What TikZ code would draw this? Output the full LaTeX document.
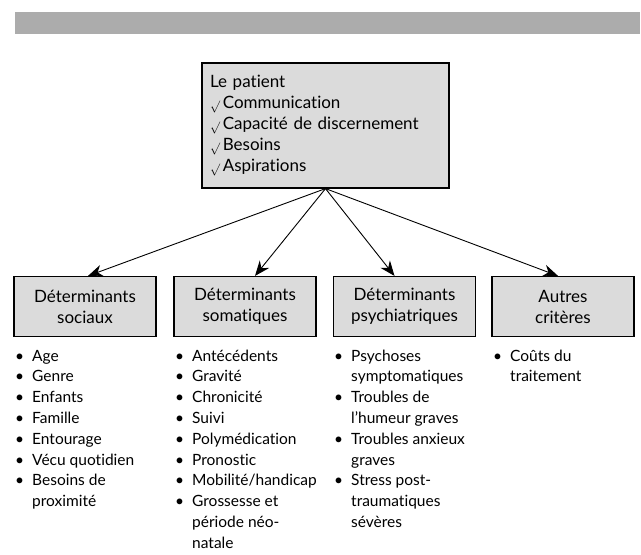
\documentclass[tikz,border=0pt]{standalone}
\usepackage{fontspec}
\setmainfont{Lato}[Ligatures=NoCommon]
\usetikzlibrary{arrows.meta}
\newcommand{\coche}{\raisebox{-1pt}{\fontsize{13}{15}\selectfont$\surd$}\,}
\begin{document}
\begin{tikzpicture}[
  x=1pt, y=-1pt,
  grand/.style={font={\fontsize{17}{21}\selectfont}},
  petit/.style={font={\fontsize{15.5}{20.8}\selectfont}},
  patbox/.style={draw=black, line width=1.2pt, fill=gray!28, minimum width=247pt, minimum height=125pt, text width=231pt, align=left, inner sep=0pt, grand},
  detbox/.style={draw=black, line width=1.2pt, fill=gray!28, minimum width=142pt, minimum height=60pt, align=center, inner sep=0pt, grand},
  liste/.style={anchor=base west, inner sep=0pt, petit},
  fleche/.style={line width=0.9pt, -{Stealth[length=15pt, width=12pt]}}
]
\useasboundingbox (0,0) rectangle (641,555);
\fill[gray!65] (15,12) rectangle (640,34);
\node[patbox] (patient) at (325.5,125.5) {Le patient\\
  \coche Communication\\
  \coche Capacité de discernement\\
  \coche Besoins\\
  \coche Aspirations};
\node[detbox] (sociaux) at (85,306.5) {Déterminants\\sociaux};
\node[detbox] (somat) at (245,306.5) {Déterminants\\somatiques};
\node[detbox] (psych) at (404.5,306.5) {Déterminants\\psychiatriques};
\node[detbox] (autres) at (563,306.5) {Autres\\critères};
\draw[fleche] (patient.south) -- ([xshift=3pt]sociaux.north);
\draw[fleche] (patient.south) -- ([xshift=10pt]somat.north);
\draw[fleche] (patient.south) -- ([xshift=-10pt]psych.north);
\draw[fleche] (patient.south) -- ([xshift=-5pt]autres.north);
% listes
\node[liste] (l1) at (15,361) {\begin{tabular}[t]{@{}l@{\hspace{8pt}}l@{}}
  \textbullet & Age\\ \textbullet & Genre\\ \textbullet & Enfants\\ \textbullet & Famille\\
  \textbullet & Entourage\\ \textbullet & Vécu quotidien\\ \textbullet & Besoins de\\ & proximité
  \end{tabular}};
\node[liste] (l2) at (175,361) {\begin{tabular}[t]{@{}l@{\hspace{8pt}}l@{}}
  \textbullet & Antécédents\\ \textbullet & Gravité\\ \textbullet & Chronicité\\ \textbullet & Suivi\\
  \textbullet & Polymédication\\ \textbullet & Pronostic\\ \textbullet & Mobilité/handicap\\
  \textbullet & Grossesse et\\ & période néo-\\ & natale
  \end{tabular}};
\node[liste] (l3) at (334,361) {\begin{tabular}[t]{@{}l@{\hspace{8pt}}l@{}}
  \textbullet & Psychoses\\ & symptomatiques\\ \textbullet & Troubles de\\ & l'humeur graves\\
  \textbullet & Troubles anxieux\\ & graves\\ \textbullet & Stress post-\\ & traumatiques\\ & sévères
  \end{tabular}};
\node[liste] (l4) at (493,361) {\begin{tabular}[t]{@{}l@{\hspace{8pt}}l@{}}
  \textbullet & Coûts du\\ & traitement
  \end{tabular}};
\end{tikzpicture}
\end{document}
